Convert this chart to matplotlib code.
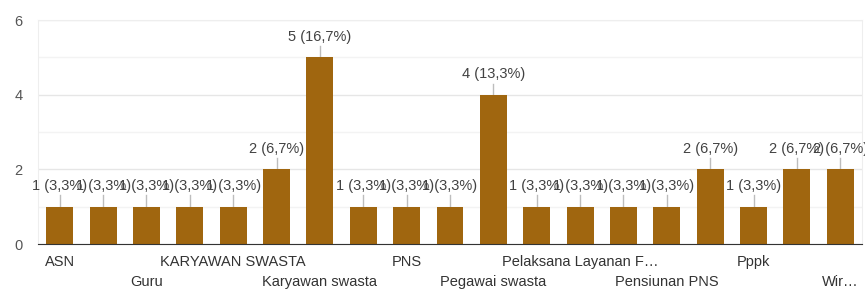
import matplotlib.pyplot as plt
from matplotlib.transforms import blended_transform_factory

# categories (only every other one is readable in the original)
labels = ["ASN", "", "Guru", "", "KARYAWAN SWASTA", "", "Karyawan swasta", "",
          "PNS", "", "Pegawai swasta", "", "Pelaksana Layanan F\u2026", "",
          "Pensiunan PNS", "", "Pppk", "", "Wir\u2026"]
counts = [1, 1, 1, 1, 1, 2, 5, 1, 1, 1, 4, 1, 1, 1, 1, 2, 1, 2, 2]
percents = ["3,3", "3,3", "3,3", "3,3", "3,3", "6,7", "16,7", "3,3", "3,3", "3,3",
            "13,3", "3,3", "3,3", "3,3", "3,3", "6,7", "3,3", "6,7", "6,7"]

plt.rcParams['font.family'] = ['Liberation Sans', 'DejaVu Sans']

fig = plt.figure(figsize=(8.65, 2.91), dpi=100)
ax = fig.add_axes([0.044, 0.1615, 0.9525, 0.7695])

x = list(range(len(counts)))
ax.bar(x, counts, width=0.62, color='#a0660f', zorder=3)

# value labels with small stems
for i, v in enumerate(counts):
    ax.plot([i, i], [v, v + 0.3], color='#bdbdbd', lw=1, zorder=2)
    ax.text(i, v + 0.36, str(v) + " (" + percents[i] + "%)", ha='center', va='bottom',
            fontsize=10.5, color='#424242', zorder=4)

ax.set_xlim(-0.5, len(counts) - 0.5)
ax.set_ylim(0, 6)
ax.set_yticks([0, 2, 4, 6])
ax.set_yticks([1, 3, 5], minor=True)
ax.grid(axis='y', which='major', color='#e6e6e6', lw=1, zorder=0)
ax.grid(axis='y', which='minor', color='#f3f3f3', lw=1, zorder=0)
ax.tick_params(axis='y', which='both', length=0, pad=11, labelsize=10.5, labelcolor='#555555')

# labels alternate between two rows
ax.set_xticks([])
trans = blended_transform_factory(ax.transData, ax.transAxes)
for i, lab in enumerate(labels):
    if lab == "":
        continue
    y = -0.08 if i % 4 == 0 else -0.17
    ax.text(i, y, lab, transform=trans, ha='center', va='center',
            fontsize=10.5, color='#333333')

for s in ['left', 'right', 'top']:
    ax.spines[s].set_color('#eeeeee')
ax.spines['bottom'].set_color('#333333')
ax.spines['bottom'].set_zorder(5)

fig.savefig('out.png', dpi=100)
